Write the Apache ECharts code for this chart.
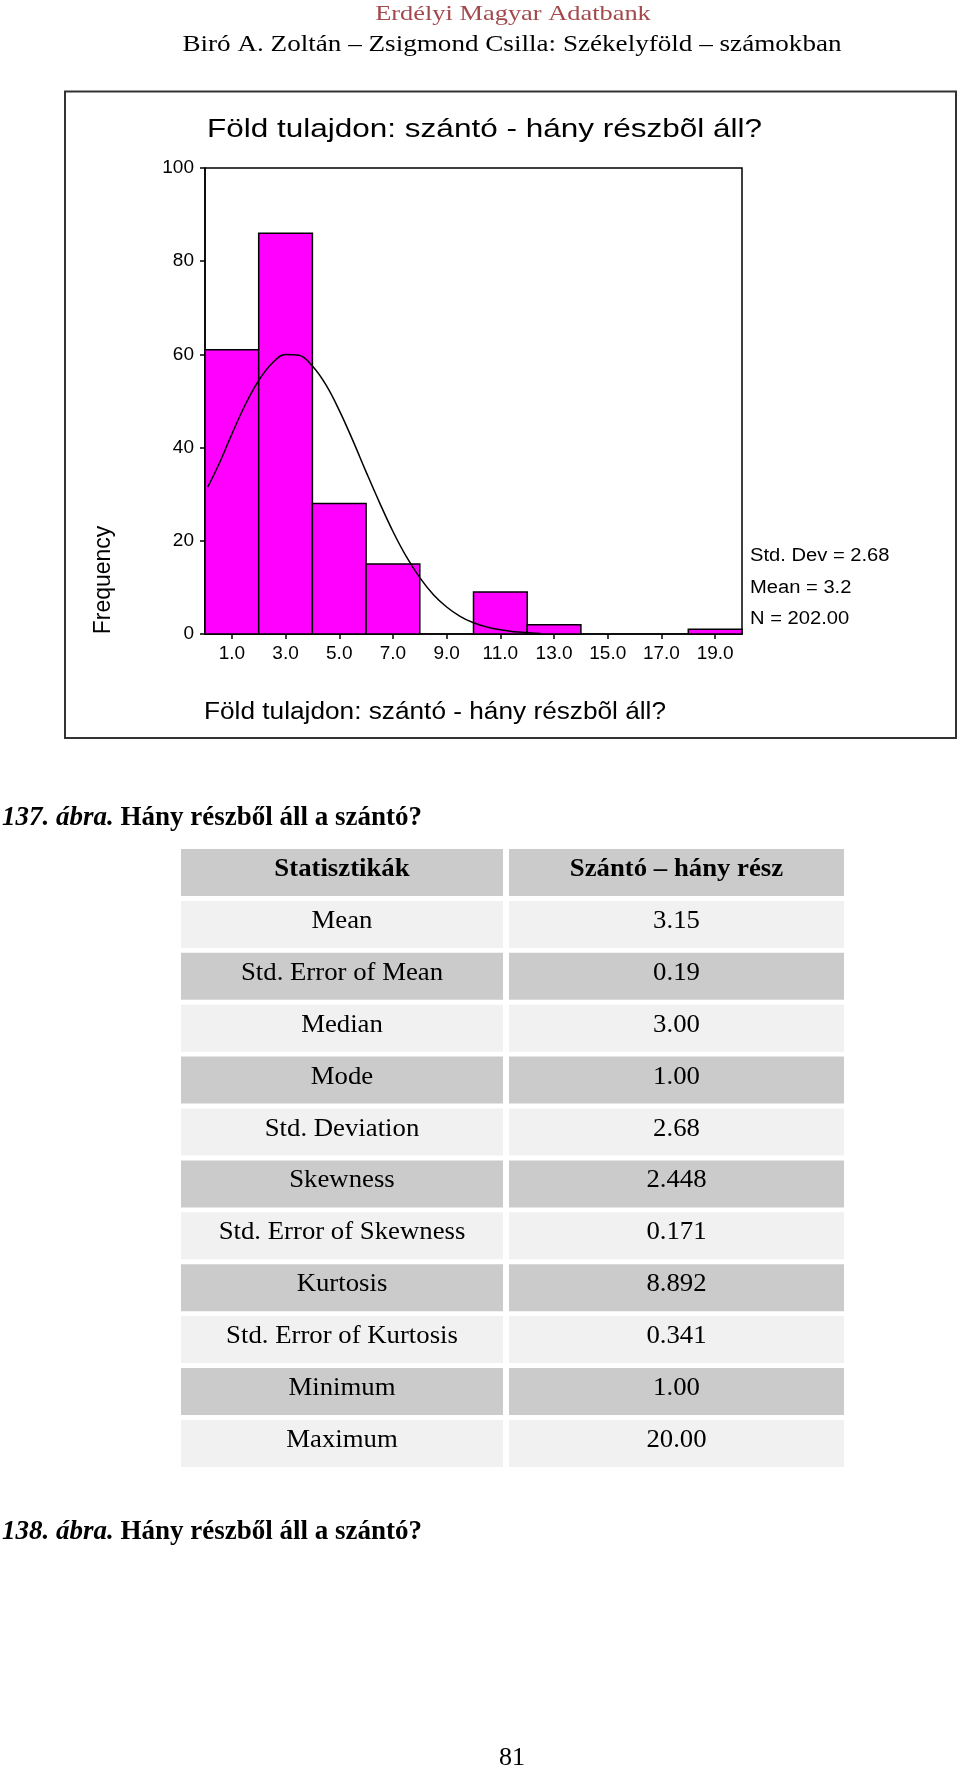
<!DOCTYPE html>
<html>
<head>
<meta charset="utf-8">
<script src="https://cdn.jsdelivr.net/npm/echarts@6/dist/echarts.min.js"></script>
<style>
  html, body { margin: 0; padding: 0; background: #ffffff; }
  #main { width: 960px; height: 1769px; }
</style>
</head>
<body>
<div id="main"></div>
<script>
// ---------- data ----------
const headerTitle = 'Erdélyi Magyar Adatbank';
const headerSub = 'Biró A. Zoltán – Zsigmond Csilla: Székelyföld – számokban';
const chartTitle = 'Föld tulajdon: szántó - hány részbõl áll?';
const xAxisTitle = 'Föld tulajdon: szántó - hány részbõl áll?';
const yAxisTitle = 'Frequency';

const binCenters = [1, 3, 5, 7, 9, 11, 13, 15, 17, 19];
const frequencies = [61, 86, 28, 15, 0, 9, 2, 0, 0, 1];
const binWidth = 2;
const xTickValues = [1, 3, 5, 7, 9, 11, 13, 15, 17, 19];

// normal curve
const curveX = [0.1, 0.5, 1, 1.5, 2, 2.5, 3, 3.5, 4, 4.5, 5, 5.5, 6, 6.5, 7, 7.5, 8, 8.5, 9, 9.5, 10, 10.5, 11, 11.5, 12, 12.5];
const curveY = [31.5, 36.2, 42.9, 49.2, 54.4, 58.1, 60.0, 59.8, 57.5, 53.5, 48.0, 41.6, 34.8, 28.2, 22.0, 16.6, 12.1, 8.5, 5.8, 3.8, 2.4, 1.5, 0.9, 0.5, 0.3, 0.1];

const statsLines = ['Std. Dev = 2.68', 'Mean = 3.2', 'N = 202.00'];

const tableHeader = ['Statisztikák', 'Szántó – hány rész'];
const statNames = ['Mean', 'Std. Error of Mean', 'Median', 'Mode', 'Std. Deviation', 'Skewness',
  'Std. Error of Skewness', 'Kurtosis', 'Std. Error of Kurtosis', 'Minimum', 'Maximum'];
const statValues = ['3.15', '0.19', '3.00', '1.00', '2.68', '2.448', '0.171', '8.892', '0.341', '1.00', '20.00'];

const caption1 = ['137. ábra.', 'Hány részből áll a szántó?'];
const caption2 = ['138. ábra.', 'Hány részből áll a szántó?'];
const pageNumber = '81';

// ---------- helpers ----------
const SANS = '"Liberation Sans", Arial, sans-serif';
const SERIF = '"Liberation Serif", "Times New Roman", serif';

function txt(x, y, text, family, size, opts) {
  opts = opts || {};
  return {
    type: 'text',
    x: x, y: y,
    scaleX: opts.scaleX || 1,
    rotation: opts.rotation || 0,
    z: 100,
    style: {
      x: 0, y: 0,
      text: text,
      fontFamily: family,
      fontSize: size,
      fontWeight: opts.weight || 'normal',
      fontStyle: opts.style || 'normal',
      fill: opts.color || '#000',
      align: opts.align || 'center',
      verticalAlign: 'middle',
      rich: opts.rich
    }
  };
}

const graphics = [];
// page header
graphics.push(txt(513, 14, headerTitle, SERIF, 22, { color: '#A3494C', scaleX: 1.2 }));
graphics.push(txt(512, 45, headerSub, SERIF, 24, { scaleX: 1.13 }));

// outer chart box
graphics.push({ type: 'rect', z: 1, shape: { x: 65, y: 91.5, width: 891, height: 646.5 },
  style: { fill: 'none', stroke: '#333', lineWidth: 2 } });

// chart title
graphics.push(txt(207, 130, chartTitle, SANS, 25, { align: 'left', scaleX: 1.26 }));
// y axis title
graphics.push(txt(104, 580, yAxisTitle, SANS, 23, { rotation: Math.PI / 2 }));
// x axis title
graphics.push(txt(204, 713, xAxisTitle, SANS, 23, { align: 'left', scaleX: 1.14 }));
// statistics text
const statsY = [556, 588, 619];
statsLines.forEach(function (s, i) {
  graphics.push(txt(750, statsY[i], s, SANS, 18, { align: 'left', scaleX: 1.12 }));
});

// captions
const capRich = {
  i: { fontFamily: SERIF, fontSize: 27, fontStyle: 'italic', fontWeight: 'bold' },
  b: { fontFamily: SERIF, fontSize: 27, fontWeight: 'bold' }
};
graphics.push(txt(2, 818, '{i|' + caption1[0] + '} {b|' + caption1[1] + '}', SERIF, 27, { align: 'left', rich: capRich, weight: 'bold' }));
graphics.push(txt(2, 1532, '{i|' + caption2[0] + '} {b|' + caption2[1] + '}', SERIF, 27, { align: 'left', rich: capRich, weight: 'bold' }));

// table
const tableTop = 849, rowPitch = 51.9, rowH = 47;
const col1 = { x: 181, w: 322 }, col2 = { x: 509, w: 335 };
const rows = [tableHeader].concat(statNames.map(function (n, i) { return [n, statValues[i]]; }));
rows.forEach(function (r, i) {
  const top = tableTop + i * rowPitch;
  const fill = (i % 2 === 0) ? '#CBCBCB' : '#F1F1F1';
  graphics.push({ type: 'rect', z: 1, shape: { x: col1.x, y: top, width: col1.w, height: rowH }, style: { fill: fill } });
  graphics.push({ type: 'rect', z: 1, shape: { x: col2.x, y: top, width: col2.w, height: rowH }, style: { fill: fill } });
  const w = i === 0 ? 'bold' : 'normal';
  graphics.push(txt(col1.x + col1.w / 2, top + rowH / 2 - 3, r[0], SERIF, 25, { weight: w, scaleX: 1.07 }));
  graphics.push(txt(col2.x + col2.w / 2, top + rowH / 2 - 3, r[1], SERIF, 25, { weight: w, scaleX: 1.07 }));
});

// page number
graphics.push(txt(512, 1758, pageNumber, SERIF, 26));

// ---------- chart ----------
const chart = echarts.init(document.getElementById('main'), null, { renderer: 'canvas' });

const option = {
  animation: false,
  backgroundColor: '#ffffff',
  grid: {
    left: 205, top: 168, width: 537, height: 466,
    show: true, borderColor: '#000', borderWidth: 1.5, backgroundColor: 'transparent'
  },
  xAxis: {
    type: 'value', min: 0, max: 20,
    axisLine: { show: true, onZero: false, lineStyle: { color: '#000', width: 1.5 } },
    axisTick: { show: true, length: 5, inside: false, customValues: xTickValues, lineStyle: { color: '#000', width: 1.5 } },
    axisLabel: {
      customValues: xTickValues, margin: 10,
      formatter: function (v) { return v.toFixed(1); },
      fontFamily: SANS, fontSize: 19, color: '#000'
    },
    splitLine: { show: false }
  },
  yAxis: {
    type: 'value', min: 0, max: 100, interval: 20,
    axisLine: { show: true, lineStyle: { color: '#000', width: 1.5 } },
    axisTick: { show: true, length: 5, inside: false, lineStyle: { color: '#000', width: 1.5 } },
    axisLabel: { margin: 11, fontFamily: SANS, fontSize: 19, color: '#000' },
    splitLine: { show: false }
  },
  graphic: graphics,
  series: [
    {
      type: 'custom',
      z: 2,
      data: binCenters.map(function (c, i) { return [c, frequencies[i]]; }),
      renderItem: function (params, api) {
        const c = api.value(0), n = api.value(1);
        if (!n) return null;
        const p0 = api.coord([c - binWidth / 2, n]);
        const p1 = api.coord([c + binWidth / 2, 0]);
        return {
          type: 'rect',
          shape: { x: p0[0], y: p0[1], width: p1[0] - p0[0], height: p1[1] - p0[1] },
          style: { fill: '#FF00FF', stroke: '#000', lineWidth: 1.5 }
        };
      }
    },
    {
      type: 'line',
      z: 3,
      data: curveX.map(function (x, i) { return [x, curveY[i]]; }),
      smooth: 0.4,
      showSymbol: false,
      symbol: 'none',
      lineStyle: { color: '#000', width: 1.5 }
    }
  ]
};
chart.setOption(option);
</script>
</body>
</html>
